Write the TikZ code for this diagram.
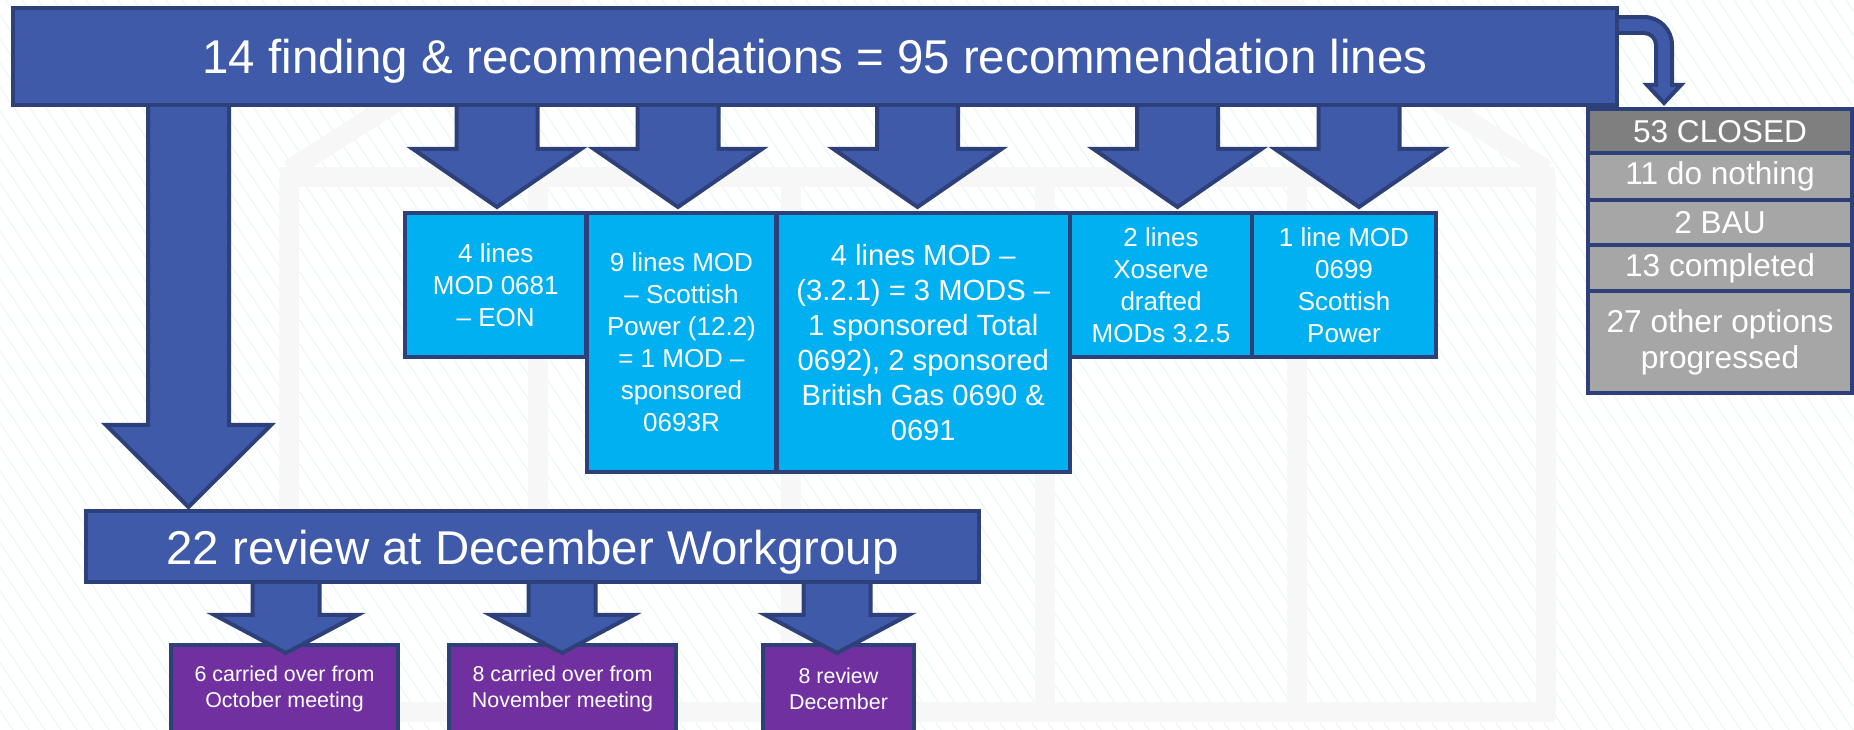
\documentclass[tikz,border=0pt]{standalone}
\usepackage{fontspec}
\setmainfont{Liberation Sans}
\usetikzlibrary{calc}
\newcommand{\PX}{0.02cm}
\newcommand{\LW}{0.08cm}
\definecolor{mblue}{RGB}{63,90,168}
\definecolor{mnavy}{RGB}{46,64,122}
\definecolor{mcyan}{RGB}{0,176,240}
\definecolor{mpurple}{RGB}{112,48,160}
\definecolor{mgreyd}{RGB}{127,127,127}
\definecolor{mgreyl}{RGB}{166,166,166}
\definecolor{wmark}{RGB}{247,247,247}
\definecolor{hatchc}{RGB}{230,245,248}

% block arrow: #1 start, #2 tip, #3 half shaft, #4 half head, #5 head length (px)
\newcommand{\blockarr}[5]{%
  \path[barrow] let \p1=(#1), \p2=(#2) in
    ({\x2-#3*\PX},\y1) -- ({\x2-#3*\PX},{\y2+#5*\PX}) -- ({\x2-#4*\PX},{\y2+#5*\PX})
    -- (\x2,\y2) -- ({\x2+#4*\PX},{\y2+#5*\PX}) -- ({\x2+#3*\PX},{\y2+#5*\PX})
    -- ({\x2+#3*\PX},\y1);}

\begin{document}
\begin{tikzpicture}[
    x=\PX, y=\PX,
    box/.style={draw=mnavy, line width=\LW, inner sep=2pt, align=center, text=white},
    bar/.style={box, fill=mblue, font=\fontsize{27pt}{32pt}\selectfont},
    cbox/.style={box, fill=mcyan, minimum height=2.88cm, font=\fontsize{14.8pt}{18.2pt}\selectfont},
    tallbox/.style={cbox, minimum height=5.18cm},
    pbox/.style={box, fill=mpurple, minimum height=1.76cm, font=\fontsize{12.2pt}{14.8pt}\selectfont},
    gbox/.style={box, fill=mgreyl, minimum width=5.28cm, font=\fontsize{18pt}{20.5pt}\selectfont},
    barrow/.style={fill=mblue, draw=mnavy, line width=\LW, line join=miter},
    wall/.style={draw=wmark, line width=0.4cm},
    hatch/.style={draw=hatchc, line width=0.5pt},
  ]
  \useasboundingbox (0,0) rectangle (1854,730);
  \clip (0,0) rectangle (1854,730);
  \fill[white] (0,0) rectangle (1854,730);

  %% background: faint hatching and the building
  \foreach \i in {-490,-474,...,1854} { \draw[hatch] (\i,730) -- ({\i+487},0); }
  \foreach \x in {289,538,791,1045,1297,1546} { \draw[wall] (\x,18) -- (\x,553); }
  \draw[wall] (280,553) -- (1555,553);
  \draw[wall] (280,18) -- (1555,18);
  \draw[wall] (289,560) -- (917,960) -- (1546,560);

  %% the two bars
  \node[bar, minimum width=32.08cm, minimum height=1.94cm] (top) at (815,673.5)
    {\raisebox{-0.1cm}[\height][\depth]{14 finding \& recommendations = 95 recommendation lines}};
  \node[bar, minimum width=17.86cm, minimum height=1.42cm] (review) at (532.5,183.5)
    {\raisebox{-0.12cm}[\height][\depth]{22 review at December Workgroup}};

  %% MOD boxes
  \node[cbox, minimum width=3.63cm] (c1) at (495.75,445) {4 lines\\MOD 0681\\– EON};
  \node[tallbox, minimum width=3.8cm] (c2) at (681.5,387.5)
    {9 lines MOD\\– Scottish\\Power (12.2)\\= 1 MOD –\\sponsored\\0693R};
  \node[tallbox, minimum width=5.87cm, font=\fontsize{16.6pt}{19.9pt}\selectfont] (c3) at (923.25,387.5)
    {4 lines MOD –\\(3.2.1) = 3 MODS –\\1 sponsored Total\\0692), 2 sponsored\\British Gas 0690 \&\\0691};
  \node[cbox, minimum width=3.64cm] (c4) at (1161,445) {2 lines\\Xoserve\\drafted\\MODs 3.2.5};
  \node[cbox, minimum width=3.68cm] (c5) at (1344,445) {1 line MOD\\0699\\Scottish\\Power};

  %% closed lines
  \node[gbox, fill=mgreyd, minimum height=0.89cm] (closed) at (1720,598.75) {53 CLOSED};
  \node[gbox, minimum height=0.93cm] (nothing) at (1720,553.25) {11 do nothing};
  \node[gbox, minimum height=0.91cm] (bau) at (1720,507.25) {2 BAU};
  \node[gbox, minimum height=0.91cm] (done) at (1720,461.75) {13 completed};
  \node[gbox, minimum height=2.04cm] (other) at (1720,388) {27 other options\\progressed};

  %% meetings
  \node[pbox, minimum width=4.54cm] (oct) at (284.5,41) {6 carried over from\\October meeting};
  \node[pbox, minimum width=4.54cm] (nov) at (562.5,41) {8 carried over from\\November meeting};
  \node[pbox, minimum width=3.02cm] (dec) at (838.5,41) {8 review\\December};

  %% arrow tips
  \coordinate (tA) at (497,523);
  \coordinate (tB) at (678,523);
  \coordinate (tC) at (917.5,523);
  \coordinate (tD) at (1177.5,523);
  \coordinate (tE) at (1359,523);
  \coordinate (tL) at (188.5,223);
  \coordinate (tO) at (286,77);
  \coordinate (tN) at (562,77);
  \coordinate (tM) at (837,77);
  \coordinate (tCl) at (1664,627);

  \foreach \t in {tA,tB,tC,tD,tE} { \blockarr{top.south -| \t}{\t}{40.5}{84}{58} }
  \blockarr{top.south -| tL}{tL}{40.5}{82.5}{82}
  \foreach \t in {tO,tN,tM} { \blockarr{review.south -| \t}{\t}{33.5}{71.5}{38} }

  % bent arrow to the closed lines
  \path[barrow] let \p1=(top.north east), \p2=(tCl) in
    (\x1,{\y1-11*\PX}) -- ({\x2-20*\PX},{\y1-11*\PX})
    arc[start angle=90, end angle=0, radius=28*\PX]
    -- ({\x2+8*\PX},{\y2+18*\PX}) -- ({\x2+17*\PX},{\y2+18*\PX}) -- (\x2,\y2)
    -- ({\x2-17*\PX},{\y2+18*\PX}) -- ({\x2-8*\PX},{\y2+18*\PX})
    -- ({\x2-8*\PX},{\y1-39*\PX})
    arc[start angle=0, end angle=90, radius=12*\PX]
    -- (\x1,{\y1-27*\PX});
\end{tikzpicture}
\end{document}
